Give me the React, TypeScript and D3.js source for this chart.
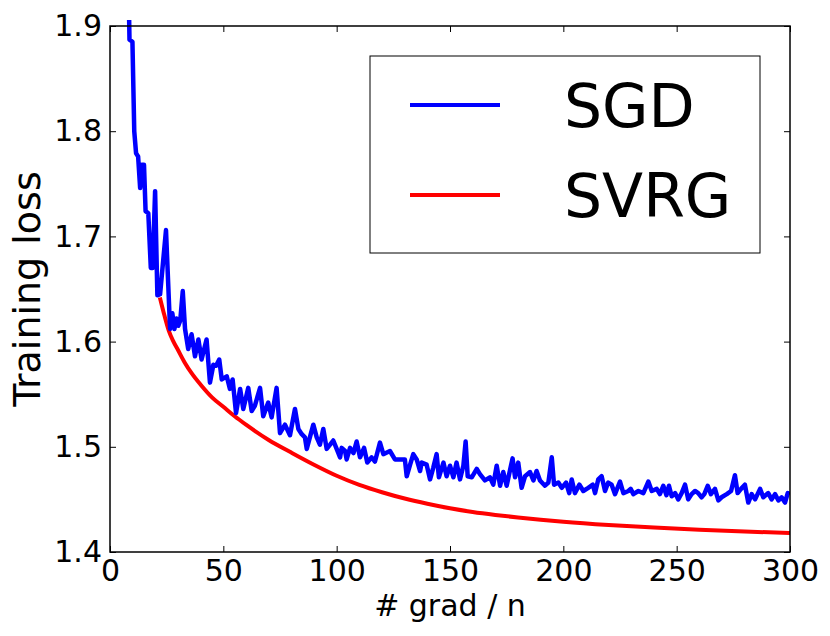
import React, { useRef, useEffect } from "react"
import * as d3 from "d3"

// SGD training loss (epoch = # grad / n)
const sgdEpoch = [
	8.0, 8.6, 9.9, 10.7, 11.5, 12.4, 13.3, 14.0, 15.0, 15.7, 16.9, 18.0, 18.8, 19.9, 20.9, 22.1, 24.7, 26.5, 27.5, 28.4,
	29.3, 30.1, 31.0, 32.1, 33.1, 34.5, 36.0, 37.5, 39.0, 40.4, 42.6, 44.1, 45.6, 46.8, 48.2, 49.3, 51.5, 52.9, 54.1, 55.6,
	57.4, 58.8, 61.0, 62.5, 63.9, 66.2, 67.6, 69.8, 71.3, 73.5, 75.0, 77.2, 79.4, 81.6, 83.1, 84.6, 86.0, 86.8, 89.7, 91.2,
	92.6, 94.1, 95.6, 97.1, 98.5, 100.0, 101.5, 102.2, 103.7, 104.4, 105.9, 107.4, 108.8, 110.3, 112.1, 113.5, 115.4, 116.9, 119.1, 120.6,
	123.5, 125.7, 127.9, 130.1, 130.9, 132.4, 133.8, 135.3, 136.8, 137.5, 139.7, 141.2, 142.6, 144.1, 145.1, 147.1, 148.5, 150.0, 151.5, 152.9,
	154.4, 155.9, 156.9, 157.8, 159.6, 161.8, 163.2, 165.4, 167.6, 169.1, 170.6, 172.1, 173.5, 175.0, 177.6, 178.7, 180.1, 181.6, 183.1, 185.3,
	186.8, 188.2, 189.7, 191.9, 193.4, 194.9, 195.9, 197.8, 199.3, 201.2, 202.6, 203.7, 205.1, 207.1, 208.8, 211.0, 213.0, 214.0, 215.4, 216.9,
	218.4, 219.8, 221.3, 222.8, 225.0, 226.5, 228.7, 229.7, 230.9, 233.1, 235.3, 237.5, 239.0, 241.2, 242.6, 244.1, 245.5, 246.6, 247.8, 249.3,
	250.7, 252.2, 253.7, 255.1, 256.6, 258.1, 259.5, 261.0, 262.2, 263.7, 265.1, 266.9, 268.4, 269.8, 272.1, 274.0, 275.7, 276.9, 278.4, 280.1,
	281.6, 283.1, 284.6, 286.8, 288.2, 290.4, 291.9, 293.4, 294.9, 296.3, 297.8, 299.0, 300.0,
]
const sgdLoss = [
	1.960, 1.887, 1.885, 1.800, 1.779, 1.776, 1.746, 1.768, 1.768, 1.724, 1.722, 1.670, 1.670, 1.743, 1.644, 1.645, 1.706, 1.612, 1.627, 1.612,
	1.622, 1.615, 1.620, 1.648, 1.612, 1.593, 1.607, 1.586, 1.602, 1.583, 1.602, 1.561, 1.578, 1.577, 1.583, 1.564, 1.567, 1.555, 1.564, 1.532,
	1.555, 1.536, 1.556, 1.534, 1.539, 1.556, 1.529, 1.542, 1.528, 1.556, 1.513, 1.521, 1.511, 1.536, 1.517, 1.512, 1.509, 1.498, 1.521, 1.509,
	1.502, 1.517, 1.498, 1.502, 1.506, 1.498, 1.490, 1.499, 1.496, 1.488, 1.499, 1.494, 1.505, 1.490, 1.499, 1.485, 1.490, 1.486, 1.504, 1.493,
	1.496, 1.488, 1.488, 1.488, 1.472, 1.483, 1.493, 1.488, 1.477, 1.485, 1.483, 1.469, 1.480, 1.493, 1.471, 1.485, 1.472, 1.482, 1.471, 1.485,
	1.469, 1.482, 1.505, 1.472, 1.471, 1.479, 1.474, 1.468, 1.471, 1.464, 1.482, 1.463, 1.476, 1.463, 1.489, 1.471, 1.485, 1.461, 1.472, 1.476,
	1.468, 1.477, 1.468, 1.463, 1.466, 1.490, 1.464, 1.466, 1.461, 1.466, 1.456, 1.469, 1.456, 1.464, 1.458, 1.461, 1.464, 1.456, 1.469, 1.472,
	1.458, 1.466, 1.464, 1.455, 1.467, 1.456, 1.458, 1.460, 1.455, 1.458, 1.456, 1.467, 1.458, 1.460, 1.455, 1.463, 1.454, 1.463, 1.453, 1.456,
	1.450, 1.456, 1.464, 1.450, 1.455, 1.458, 1.456, 1.452, 1.455, 1.463, 1.455, 1.460, 1.449, 1.452, 1.455, 1.458, 1.473, 1.456, 1.460, 1.464,
	1.447, 1.455, 1.450, 1.460, 1.452, 1.456, 1.450, 1.455, 1.449, 1.452, 1.447, 1.456, 1.455,
]

// SVRG training loss
const svrgEpoch = [22, 24, 26, 28, 30, 33, 36, 40, 45, 50, 55, 60, 70, 80, 90, 100, 110, 120, 130, 140, 150, 160, 170, 180, 190, 200, 220, 240, 260, 280, 300]
const svrgLoss = [
	1.642, 1.625, 1.610, 1.600, 1.592, 1.580, 1.570, 1.559, 1.547, 1.538, 1.529, 1.521, 1.5065, 1.4945, 1.483, 1.4725, 1.4638, 1.4568, 1.4508, 1.4458,
	1.4415, 1.438, 1.4352, 1.4328, 1.4307, 1.4288, 1.4257, 1.4232, 1.4212, 1.4195, 1.418,
]

const xTicks = [0, 50, 100, 150, 200, 250, 300]
const yTicks = [1.4, 1.5, 1.6, 1.7, 1.8, 1.9]
const seriesNames = ["SGD", "SVRG"]
const seriesColors = ["#0000ff", "#ff0000"]

const App: React.FunctionComponent = () => {
	const svgRef = useRef<any>()

	useEffect(() => {
		const W = 830
		const H = 636
		const left = 110
		const right = 790
		const top = 26
		const bottom = 552
		const font = "DejaVu Sans, sans-serif"

		const svg = d3.select(svgRef.current).attr("width", W).attr("height", H)
		svg.selectAll("*").remove()
		svg.append("rect").attr("width", W).attr("height", H).attr("fill", "white")

		const xScale = d3.scaleLinear().domain([0, 300]).range([left, right])
		const yScale = d3.scaleLinear().domain([1.4, 1.9]).range([bottom, top])

		svg.append("clipPath")
			.attr("id", "plot-clip")
			.append("rect")
			.attr("x", left)
			.attr("y", top - 6)
			.attr("width", right - left)
			.attr("height", bottom - top + 6)

		const line = d3
			.line<[number, number]>()
			.x((d) => xScale(d[0]))
			.y((d) => yScale(d[1]))

		const sgd: [number, number][] = sgdEpoch.map((e, i) => [e, sgdLoss[i]])
		const svrg: [number, number][] = svrgEpoch.map((e, i) => [e, svrgLoss[i]])

		const plot = svg.append("g").attr("clip-path", "url(#plot-clip)")
		plot.append("path")
			.attr("d", line.curve(d3.curveMonotoneX)(svrg))
			.attr("fill", "none")
			.attr("stroke", seriesColors[1])
			.attr("stroke-width", 4)
		plot.append("path")
			.attr("d", line.curve(d3.curveLinear)(sgd))
			.attr("fill", "none")
			.attr("stroke", seriesColors[0])
			.attr("stroke-width", 4.5)
			.attr("stroke-linejoin", "round")

		// axes, ticks pointing inward on all four sides
		const styleAxis = (g: any) => {
			g.select(".domain").remove()
			g.selectAll("line").attr("stroke", "black").attr("stroke-width", 1)
			g.selectAll("text").attr("font-family", font).attr("font-size", 30).attr("fill", "black")
		}
		svg.append("g")
			.attr("transform", `translate(0, ${bottom})`)
			.call(d3.axisBottom(xScale).tickValues(xTicks).tickSizeInner(-6).tickSizeOuter(0).tickPadding(8).tickFormat(d3.format("d")))
			.call(styleAxis)
		svg.append("g")
			.attr("transform", `translate(${left}, 0)`)
			.call(d3.axisLeft(yScale).tickValues(yTicks).tickSizeInner(-6).tickSizeOuter(0).tickPadding(8).tickFormat(d3.format(".1f")))
			.call(styleAxis)
		svg.append("g")
			.attr("transform", `translate(0, ${top})`)
			.call(d3.axisTop(xScale).tickValues(xTicks).tickSizeInner(-6).tickSizeOuter(0).tickFormat(() => ""))
			.call(styleAxis)
		svg.append("g")
			.attr("transform", `translate(${right}, 0)`)
			.call(d3.axisRight(yScale).tickValues(yTicks).tickSizeInner(-6).tickSizeOuter(0).tickFormat(() => ""))
			.call(styleAxis)

		svg.append("rect")
			.attr("x", left)
			.attr("y", top)
			.attr("width", right - left)
			.attr("height", bottom - top)
			.attr("fill", "none")
			.attr("stroke", "black")
			.attr("stroke-width", 1.5)

		svg.append("text")
			.attr("x", (left + right) / 2)
			.attr("y", 616)
			.attr("text-anchor", "middle")
			.attr("font-family", font)
			.attr("font-size", 30)
			.text("# grad / n")

		svg.append("text")
			.attr("transform", `translate(40, ${(top + bottom) / 2}) rotate(-90)`)
			.attr("text-anchor", "middle")
			.attr("font-family", font)
			.attr("font-size", 38)
			.text("Training loss")

		// legend
		const legend = svg.append("g")
		legend.append("rect")
			.attr("x", 370)
			.attr("y", 56)
			.attr("width", 390)
			.attr("height", 197)
			.attr("fill", "white")
			.attr("stroke", "black")
			.attr("stroke-width", 1)
		seriesNames.forEach((name, i) => {
			const ly = 105 + i * 90
			legend.append("line")
				.attr("x1", 410)
				.attr("x2", 500)
				.attr("y1", ly)
				.attr("y2", ly)
				.attr("stroke", seriesColors[i])
				.attr("stroke-width", 4)
			legend.append("text")
				.attr("x", 564)
				.attr("y", ly + 22)
				.attr("font-family", font)
				.attr("font-size", 60)
				.text(name)
		})
	}, [])

	return (
		<div style={{ position: "absolute", left: 0, top: 0 }}>
			<svg ref={svgRef} style={{ display: "block" }}></svg>
		</div>
	)
}

export default App
